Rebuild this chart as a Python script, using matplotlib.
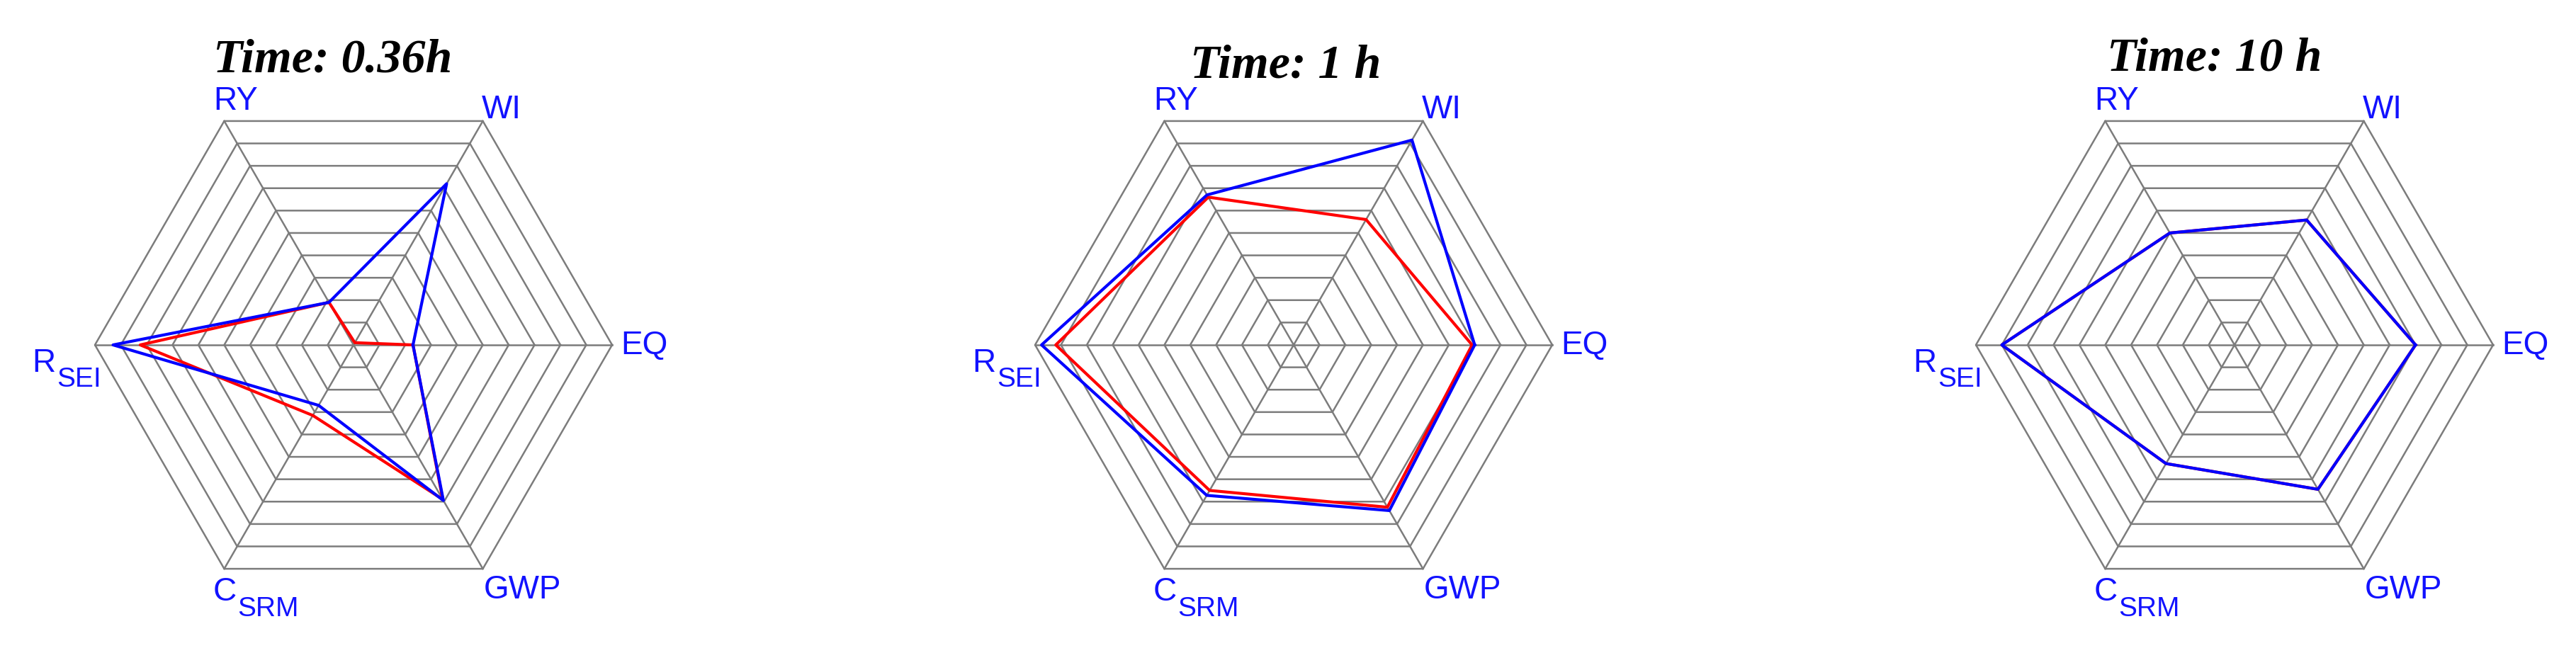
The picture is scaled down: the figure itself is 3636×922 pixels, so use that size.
import numpy as np
import matplotlib.pyplot as plt

# spoke order: EQ, WI, RY, R_SEI, C_SRM, GWP (counter-clockwise from the right)
spokes = ["EQ", "WI", "RY", "SEI", "SRM", "GWP"]
titles = ["Time: 0.36h", "Time: 1 h", "Time: 10 h"]

red_036h = [0.23, 0.01, 0.19, 0.825, 0.315, 0.69]
blue_036h = [0.23, 0.72, 0.19, 0.93, 0.27, 0.695]
red_1h = [0.69, 0.56, 0.66, 0.92, 0.65, 0.725]
blue_1h = [0.70, 0.915, 0.67, 0.975, 0.672, 0.74]
red_10h = [0.70, 0.558, 0.50, 0.90, 0.53, 0.645]
blue_10h = [0.70, 0.558, 0.50, 0.90, 0.53, 0.645]

rings = np.arange(1, 11) / 10

W, H = 3637, 922
R = 365            # pixels for value 1.0
half = 470         # half size of each panel box in pixels
centers = [(499, 487), (1826, 487), (3154, 487)]
title_pos = [(470, 102), (1815, 109), (3126, 100)]

BLUE = "#0000ff"
RED = "#ff0000"
LABEL = "#1212ff"
GRID = "#7c7c7c"
SANS = "Liberation Sans"

theta = np.deg2rad(np.arange(6) * 60)


def to_xy(vals):
    v = np.append(vals, vals[0])
    t = np.append(theta, theta[0])
    return v * np.cos(t), v * np.sin(t)


def px(dx, dy):
    # pixel offset (x right, y down) -> data units
    return dx / R, -dy / R


fig = plt.figure(figsize=(W / 100, H / 100), dpi=100)
fig.patch.set_facecolor("white")

series = [(red_036h, blue_036h), (red_1h, blue_1h), (red_10h, blue_10h)]

for i, ((cx, cy), (red, blue)) in enumerate(zip(centers, series)):
    ax = fig.add_axes([(cx - half) / W, (H - cy - half) / H, 2 * half / W, 2 * half / H])
    ax.set_xlim(-half / R, half / R)
    ax.set_ylim(-half / R, half / R)
    ax.axis("off")

    # hexagonal grid
    for r in rings:
        gx, gy = to_xy(np.full(6, r))
        ax.plot(gx, gy, color=GRID, lw=1.8, zorder=1)
    for t in theta:
        ax.plot([0, np.cos(t)], [0, np.sin(t)], color=GRID, lw=1.8, zorder=1)

    rx, ry = to_xy(red)
    ax.plot(rx, ry, color=RED, lw=3.0, zorder=3)
    bx, by = to_xy(blue)
    ax.plot(bx, by, color=BLUE, lw=3.0, zorder=4)

    vx, vy = np.cos(theta), np.sin(theta)

    def lab(k, dx, dy, s, size=33):
        ox, oy = px(dx, dy)
        ax.text(vx[k] + ox, vy[k] + oy, s, ha="left", va="baseline",
                fontsize=size, color=LABEL, family=SANS)

    lab(0, 12, 13, "EQ")
    lab(1, -2, -4, "WI")
    lab(2, -15, -16, "RY")
    lab(3, -89, 38, "R")
    lab(3, -54, 59, "SEI", 28)
    lab(4, -16, 45, "C")
    lab(4, 19, 67, "SRM", 28)
    lab(5, 1, 42, "GWP")

    tx, ty = title_pos[i]
    fig.text(tx / W, 1 - ty / H, titles[i], ha="center", va="baseline",
             fontsize=49, fontweight="bold", fontstyle="italic",
             family="Liberation Serif", color="black")

fig.savefig("out.png", dpi=100, facecolor="white")
